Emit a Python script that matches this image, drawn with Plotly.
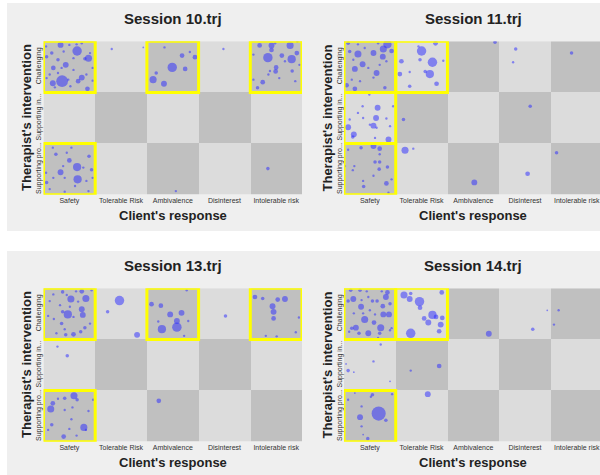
import plotly.graph_objects as go

# ---------------- data ----------------
responses = ["Safety", "Tolerable Risk", "Ambivalence", "Disinterest", "Intolerable risk"]
interventions = ["Supporting pro...", "Supporting in...", "Challenging"]  # y = 0, 1, 2
sessions = ["Session 10.trj", "Session 11.trj", "Session 13.trj", "Session 14.trj"]

# highlighted (response index, intervention index) cells
s10_cells = [[0, 2], [2, 2], [4, 2], [0, 0]]
s11_cells = [[0, 2], [1, 2], [0, 1], [0, 0]]
s13_cells = [[0, 2], [2, 2], [4, 2], [0, 0]]
s14_cells = [[0, 2], [1, 2], [0, 0]]

# Session 10 bubbles
s10_x = [-0.17, 0.15, -0.14, 0.37, -0.07, -0.31, -0.32, 0.24, 0.17, 0.35, -0.34, -0.44, 0.00, 0.24, -0.22, 0.08,
         0.40, 0.45, -0.44, -0.22, -0.02, 0.33, 0.08, 0.45, -0.45, -0.11, -0.28, 0.02, 0.30, 0.14, -0.38, -0.15,
         0.82, 1.43,
         1.99, 1.62, 1.83, 1.68, 2.18, 2.24, 2.43, 2.33, 1.84,
         2.98,
         3.84, 4.27, 4.30, 3.91, 4.11, 3.68, 3.91, 4.00, 3.99, 3.74, 4.40, 4.31, 3.64, 4.45, 3.56, 3.88, 4.06,
         4.37, 4.41, 3.98, 3.56, 4.17, 3.85,
         0.15, 0.16, -0.17, 0.00, 0.38, 0.04, -0.26, -0.44, 0.43, 0.11, 0.37, -0.38, -0.09, -0.05, 0.27, -0.31,
         0.45, 0.33, -0.12, -0.45, -0.32, -0.09,
         2.06, 3.84]
s10_y = [2.43, 2.31, 1.72, 2.17, 2.04, 1.98, 1.68, 1.79, 1.72, 1.57, 2.27, 2.20, 2.43, 2.46, 2.14, 1.94,
         2.27, 1.98, 1.78, 1.88, 1.75, 1.85, 2.17, 1.73, 2.40, 2.30, 1.60, 1.62, 2.16, 2.44, 1.85, 1.98,
         2.35, 2.38,
         1.99, 1.75, 1.67, 1.88, 2.22, 1.96, 2.19, 2.29, 2.38,
         2.35,
         2.18, 2.42, 2.15, 2.42, 2.22, 2.42, 2.33, 1.99, 1.91, 1.70, 2.27, 1.92, 1.59, 2.04, 1.75, 1.92, 1.78,
         1.72, 2.49, 2.46, 2.24, 2.11, 1.85,
         0.04, -0.20, -0.06, 0.17, 0.25, 0.42, 0.29, -0.26, -0.01, -0.33, -0.43, -0.39, -0.17, 0.32, 0.03, -0.17,
         -0.17, -0.23, 0.06, -0.07, 0.42, -0.44,
         -0.43, 0.01]
s10_size = [5, 8, 10, 6, 5, 4, 5, 5, 4, 4, 3, 3, 2, 2, 3, 2, 2, 2, 2, 2, 2, 2, 2, 2, 2, 2, 2, 2, 3, 2, 2, 2,
            2, 1.5,
            8, 6, 5, 3, 4, 4, 4, 2, 2,
            2,
            8, 6, 7, 5, 4, 4, 4, 4, 4, 4, 4, 3, 3, 2, 2, 2, 2, 2, 2, 2, 2, 2, 2,
            7, 7, 5, 4, 3, 2, 3, 3, 3, 2, 2, 2, 2, 2, 2, 2, 2, 2, 2, 2, 2, 2,
            2, 3]

# Session 11 bubbles
s11_x = [0.34, 0.26, 0.42, 0.25, 0.07, -0.23, -0.14, -0.29, 0.13, -0.29, -0.45, -0.39, -0.42, 0.29, -0.03, -0.32,
         -0.23, -0.10, 0.07, 0.19, -0.35, 0.32, 0.16, -0.19,
         1.00, 1.21, 1.16, 1.27, 0.61, 0.58, 0.97, 1.07, 1.29, 0.77, 0.77, 0.94, 1.42,
         2.42, 2.82, 2.77, 3.90,
         0.15, 0.12, 0.07, -0.42, -0.31, 0.36, -0.33, 0.32, 0.39, -0.23, -0.13, -0.01, -0.14, 0.45, 0.10, 0.00,
         0.13, -0.39,
         0.65, 3.10,
         0.07, 0.19, -0.17, 0.10, 0.19, 0.34, 0.18, 0.32, -0.12, -0.30, -0.48, 0.19, -0.33, 0.36, 0.07, -0.13,
         -0.42, 0.42,
         0.68, 0.84, 2.02, 3.05, 3.61]
s11_y = [2.44, 2.35, 2.31, 2.20, 2.27, 2.25, 2.05, 1.96, 1.88, 1.57, 1.64, 2.30, 2.46, 1.59, 1.98, 2.14,
         2.44, 2.37, 1.79, 2.04, 1.75, 2.11, 2.46, 1.72,
         2.31, 2.09, 1.86, 2.46, 2.11, 1.86, 2.14, 1.91, 1.67, 1.62, 1.90, 2.40, 2.12,
         2.48, 2.35, 2.09, 2.27,
         1.20, 1.00, 0.85, 0.82, 0.68, 0.58, 0.63, 0.99, 0.84, 1.10, 1.00, 1.46, 1.23, 1.23, 0.61, 0.87,
         0.81, 0.97,
         0.97, 1.23,
         0.45, 0.40, 0.42, 0.14, 0.14, 0.04, 0.00, -0.28, -0.34, 0.06, 0.06, 0.29, -0.02, -0.46, -0.13, -0.23,
         0.38, -0.20,
         0.37, 0.40, -0.26, -0.09, 0.32]
s11_size = [7, 6, 4, 5, 5, 6, 5, 5, 5, 4, 4, 3, 3, 3, 2, 2, 2, 2, 2, 2, 2, 2, 2, 2,
            8, 8, 7, 4, 4, 4, 3, 3, 4, 3, 2, 2, 2,
            3, 3, 2, 3,
            5, 5, 5, 5, 5, 5, 3, 2, 2, 2, 2, 2, 2, 2, 2, 2, 2, 2,
            3, 3,
            5, 4, 3, 3, 3, 3, 3, 4, 3, 2, 2, 2, 2, 2, 2, 2, 2, 2,
            6, 2, 5, 4, 3]

# Session 13 bubbles
s13_x = [0.32, 0.03, -0.03, 0.24, 0.26, 0.24, -0.13, -0.13, -0.15, 0.08, -0.07, 0.30, 0.22, -0.31, -0.41, -0.30,
         0.13, 0.43, -0.18, 0.08, 0.40, -0.09, 0.01, -0.25, -0.38, -0.05, 0.17,
         0.97, 0.74, 1.31,
         2.08, 1.79, 1.95, 2.17, 2.08, 1.59, 1.77, 2.30, 2.27, 2.22, 1.72,
         3.02,
         4.17, 4.03, 3.93, 3.95, 3.95, 3.59, 3.74, 4.44, 3.80, 4.01, 4.38,
         -0.23, -0.04,
         0.09, -0.36, -0.32, 0.28, -0.11, -0.22, -0.09, 0.15, 0.06, 0.46, 0.37, -0.09, -0.34, 0.04, 0.00, -0.41,
         0.14, 0.32,
         1.73]
s13_y = [2.30, 2.29, 1.99, 2.09, 1.98, 2.44, 2.43, 2.04, 1.81, 1.60, 1.59, 1.73, 1.65, 2.38, 1.96, 1.90,
         2.44, 2.46, 2.17, 1.94, 1.81, 1.70, 2.14, 1.62, 2.25, 2.37, 2.24,
         2.26, 2.04, 1.59,
         1.74, 1.70, 1.99, 2.02, 1.86, 2.19, 2.16, 1.86, 2.46, 1.57, 1.85,
         1.96,
         2.29, 2.28, 2.15, 2.04, 1.91, 2.33, 2.30, 1.93, 1.57, 1.56, 1.64,
         1.36, 1.18,
         0.40, 0.14, 0.25, -0.22, -0.40, 0.34, 0.35, 0.32, 0.17, 0.32, 0.10, 0.12, -0.17, -0.06, -0.25, -0.27,
         -0.38, -0.27,
         0.30]
s13_size = [6, 6, 7, 5, 5, 4, 3, 3, 3, 4, 3, 3, 3, 2, 2, 2, 2, 2, 2, 2, 2, 2, 2, 2, 2, 2, 2,
            8, 3, 5,
            8, 7, 5, 5, 5, 4, 4, 2, 2, 2, 2,
            3,
            5, 4, 5, 5, 4, 4, 3, 2, 2, 2, 2,
            2, 3,
            6, 6, 4, 6, 4, 2, 3, 3, 2, 2, 2, 2, 3, 2, 2, 2, 2, 2,
            4]

# Session 14 bubbles
s14_x = [-0.32, -0.17, -0.10, -0.27, 0.26, 0.37, 0.21, 0.31, 0.34, 0.08, -0.03, 0.25, -0.37, -0.19, 0.05, 0.14,
         -0.42, -0.35, -0.21, 0.19, 0.39, -0.03, 0.39, -0.13, 0.10, -0.31, 0.00, 0.23, 0.42, -0.40, 0.16, -0.16,
         -0.06,
         0.96, 0.79, 1.21, 0.66, 0.77, 1.13, 1.37, 1.40, 1.34, 1.28, 1.05, 0.97, 0.79, 1.39,
         2.30, 3.15, 3.43, 3.65, 3.56,
         0.21, 0.07, -0.42, -0.31, -0.46, 0.39,
         1.34, 0.79, 1.12,
         0.17, -0.19, 0.31, 0.05, 0.02, 0.43, -0.04, -0.16, -0.16, -0.42, -0.29, -0.13]
s14_y = [2.29, 2.14, 1.89, 1.73, 1.99, 1.99, 1.73, 2.33, 2.42, 1.83, 1.62, 2.15, 2.46, 2.46, 2.25, 2.25,
         2.25, 1.72, 1.62, 1.62, 2.20, 2.33, 1.68, 2.01, 1.99, 2.01, 2.07, 2.44, 1.72, 1.65, 1.53, 2.27,
         2.44,
         2.24, 1.62, 1.98, 2.37, 2.29, 1.83, 1.79, 1.92, 1.66, 1.94, 1.91, 2.12, 2.40, 2.42,
         1.61, 1.70, 2.07, 2.07, 1.79,
         1.40, 1.07, 0.89, 0.86, 1.02, 0.68,
         0.98, 0.89, 0.43,
         0.05, -0.02, -0.08, 0.42, 0.38, 0.43, -0.44, -0.20, 0.19, 0.32, 0.45, -0.36]
s14_size = [5, 5, 6, 5, 5, 5, 6, 5, 4, 4, 5, 4, 3, 3, 3, 3, 3, 3, 3, 3, 3, 2, 2, 2, 2, 2, 2, 2, 2, 2, 2, 2,
            2,
            8, 8, 7, 6, 5, 5, 5, 4, 4, 4, 4, 4, 3, 4,
            5, 3, 1.5, 2, 2,
            2, 2, 3, 1.5, 1.5, 1.5,
            4, 2, 5,
            12, 5, 3, 3, 2, 2, 3, 2, 2, 2, 1.5, 1.5]

session_x = [s10_x, s11_x, s13_x, s14_x]
session_y = [s10_y, s11_y, s13_y, s14_y]
session_size = [s10_size, s11_size, s13_size, s14_size]
session_cells = [s10_cells, s11_cells, s13_cells, s14_cells]

# ---------------- layout helpers ----------------
W, H = 600, 475
LIGHT = "#dcdcdc"
DARK = "#c0c0c0"
BUBBLE = "rgba(40,40,255,0.72)"
TXT = "#222222"
FONT = "Liberation Sans, Arial, sans-serif"


def px_x(p):
    return p / W


def px_y(p):
    return 1 - p / H


# grid geometry (pixels): left/right columns, top/bottom rows
cols = [(43.5, 302.0, 4.5), (344.0, 600.0, 4.45)]
rows = [(41.3, 194.7), (288.3, 441.7)]

fig = go.Figure()
layout = dict(
    width=W, height=H, margin=dict(l=0, r=0, t=0, b=0),
    paper_bgcolor="white", plot_bgcolor="rgba(0,0,0,0)",
    showlegend=False, font=dict(family=FONT, color=TXT),
)
shapes = []
annotations = []

# panel backgrounds
for top, bot in [(3, 231), (251, 475)]:
    shapes.append(dict(type="rect", xref="paper", yref="paper", layer="below",
                       x0=px_x(7), x1=1.0, y0=px_y(bot), y1=px_y(top),
                       fillcolor="#efefef", line=dict(width=0)))

z = [[1 if (i + j) % 2 == 0 else 0 for i in range(len(responses))] for j in range(len(interventions))]

for k in range(4):
    r, c = divmod(k, 2)
    x0p, x1p, xmax = cols[c]
    y0p, y1p = rows[r]
    n = "" if k == 0 else str(k + 1)
    xa, ya = "x" + n, "y" + n
    layout["xaxis" + n] = dict(
        domain=[px_x(x0p), px_x(x1p)], anchor=ya, range=[-0.5, xmax],
        tickvals=list(range(len(responses))), ticktext=responses,
        showgrid=False, zeroline=False, showline=False, ticks="",
        tickfont=dict(size=7, color="#333333", family=FONT), fixedrange=True,
    )
    layout["yaxis" + n] = dict(
        domain=[px_y(y1p), px_y(y0p)], anchor=xa, range=[-0.5, 2.5],
        tickvals=list(range(len(interventions))), ticktext=interventions, tickangle=-90,
        showgrid=False, zeroline=False, showline=False, ticks="",
        tickfont=dict(size=7, color="#333333", family=FONT), fixedrange=True,
    )
    fig.add_trace(go.Heatmap(
        x=list(range(len(responses))), y=list(range(len(interventions))), z=z,
        zmin=0, zmax=1, colorscale=[[0, LIGHT], [1, DARK]], showscale=False,
        hoverinfo="skip", xaxis=xa, yaxis=ya,
    ))
    fig.add_trace(go.Scatter(
        x=session_x[k], y=session_y[k], mode="markers",
        marker=dict(size=session_size[k], sizemode="diameter", sizeref=0.85,
                    color=BUBBLE, line=dict(width=0)),
        xaxis=xa, yaxis=ya, cliponaxis=True, hoverinfo="skip",
    ))
    for (ci, cj) in session_cells[k]:
        shapes.append(dict(type="rect", xref=xa, yref=ya, layer="above",
                           x0=ci - 0.5, x1=ci + 0.5, y0=cj - 0.5, y1=cj + 0.5,
                           line=dict(color="#ffff00", width=3), fillcolor="rgba(0,0,0,0)"))
    cx = (x0p + 302.0) / 2 if c == 0 else (x0p + 602.0) / 2
    # panel title
    annotations.append(dict(text="<b>%s</b>" % sessions[k], xref="paper", yref="paper",
                            x=px_x(cx), y=px_y(y0p - 23), showarrow=False,
                            xanchor="center", yanchor="middle",
                            font=dict(size=15, color=TXT, family=FONT)))
    # x axis title
    annotations.append(dict(text="<b>Client's response</b>", xref="paper", yref="paper",
                            x=px_x(cx), y=px_y(y1p + 20.5), showarrow=False,
                            xanchor="center", yanchor="middle",
                            font=dict(size=13, color=TXT, family=FONT)))
    # y axis title
    annotations.append(dict(text="<b>Therapist's intervention</b>", xref="paper", yref="paper",
                            x=px_x(x0p - 17.5), y=px_y((y0p + y1p) / 2), showarrow=False,
                            xanchor="center", yanchor="middle", textangle=-90,
                            font=dict(size=13, color=TXT, family=FONT)))

layout["shapes"] = shapes
layout["annotations"] = annotations
fig.update_layout(**layout)
fig.write_html("out.html", config={"displayModeBar": False},
               post_script="document.body.style.margin='0px';document.body.style.padding='0px';")
